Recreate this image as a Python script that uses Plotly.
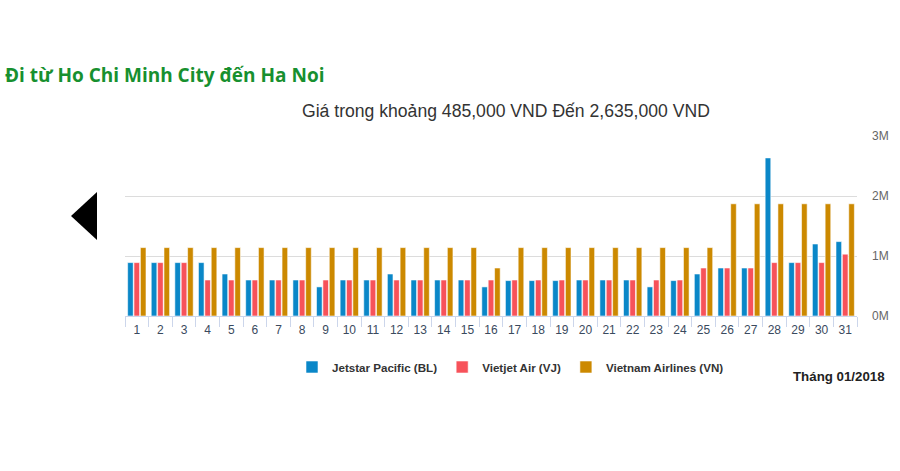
import plotly.graph_objects as go

days = [str(d) for d in range(1, 32)]
jetstar = [890000, 890000, 890000, 890000, 700000, 600000, 600000, 600000, 485000, 600000,
           600000, 700000, 600000, 600000, 600000, 485000, 590000, 590000, 590000, 600000,
           600000, 600000, 485000, 590000, 700000, 800000, 800000, 2635000, 890000, 1200000, 1240000]
vietjet = [890000, 890000, 890000, 600000, 600000, 600000, 600000, 600000, 600000, 600000,
           600000, 600000, 600000, 600000, 600000, 600000, 600000, 600000, 600000, 600000,
           600000, 600000, 600000, 600000, 800000, 800000, 800000, 890000, 890000, 890000, 1030000]
vna = [1140000] * 15 + [800000] + [1140000] * 9 + [1870000] * 6
y_ticks = [0, 1000000, 2000000, 3000000]
y_labels = ["0M", "1M", "2M", "3M"]

series = [
    ("Jetstar Pacific (BL)", jetstar, "#0a87c8"),
    ("Vietjet Air (VJ)", vietjet, "#f7525a"),
    ("Vietnam Airlines (VN)", vna, "#cc8900"),
]

fig = go.Figure()
for name, vals, col in series:
    fig.add_trace(go.Bar(x=days, y=vals, name=name, marker_color=col,
                         marker_line_color="rgba(255,255,255,0.7)", marker_line_width=0.8))

L, R, T, B = 125, 43, 136, 155
W, H = 900, 471
pw, ph = W - L - R, H - T - B

def px(x):
    return (x - L) / pw

def py(y):
    return (H - B - y) / ph

fig.update_layout(
    width=W, height=H,
    margin=dict(l=L, r=R, t=T, b=B, pad=0),
    paper_bgcolor="white", plot_bgcolor="white",
    barmode="group", bargap=0.19, bargroupgap=0.12,
    showlegend=True,
    legend=dict(orientation="h", x=px(292), xanchor="left", y=py(367), yanchor="middle",
                font=dict(family="Liberation Sans, Arial", size=11.6, color="#333333", weight="bold"),
                itemwidth=30, tracegroupgap=0, bgcolor="rgba(0,0,0,0)"),
    xaxis=dict(type="category", showgrid=False, showline=True, linecolor="#ccd6eb", linewidth=1,
               ticks="outside", tickson="boundaries", ticklen=10, tickcolor="#ccd6eb",
               ticklabelstandoff=3,
               tickfont=dict(family="Liberation Sans, Arial", size=12, color="#3a4a5e"),
               zeroline=False, fixedrange=True),
    yaxis=dict(side="right", range=[0, 3000000], tickvals=y_ticks, ticktext=y_labels,
               showgrid=True, gridcolor="#dcdcdc", gridwidth=1, zeroline=False, showline=False,
               ticklabelstandoff=14, fixedrange=True,
               tickfont=dict(family="Liberation Sans, Arial", size=12, color="#666666")),
    annotations=[
        dict(text="Đi từ Ho Chi Minh City đến Ha Noi", xref="paper", yref="paper",
             x=px(3), y=py(75), xanchor="left", yanchor="middle", showarrow=False,
             font=dict(family="Open Sans, Liberation Sans", size=19, color="#17902f", weight="bold")),
        dict(text="Giá trong khoảng 485,000 VND Đến 2,635,000 VND", xref="paper", yref="paper",
             x=px(506), y=py(111), xanchor="center", yanchor="middle", showarrow=False,
             font=dict(family="Liberation Sans, Arial", size=17.6, color="#333333")),
        dict(text="Tháng 01/2018", xref="paper", yref="paper",
             x=px(887), y=py(376), xanchor="right", yanchor="middle", showarrow=False,
             font=dict(family="Liberation Sans, Arial", size=13.3, color="#222222", weight="bold")),
    ],
    shapes=[
        dict(type="path", xref="paper", yref="paper",
             path=f"M {px(97)} {py(192)} L {px(97)} {py(240)} L {px(71)} {py(216)} Z",
             fillcolor="black", line=dict(width=0)),
    ],
)

fig.write_html("out.html", config={"displayModeBar": False},
               post_script="document.body.style.margin='0';")
